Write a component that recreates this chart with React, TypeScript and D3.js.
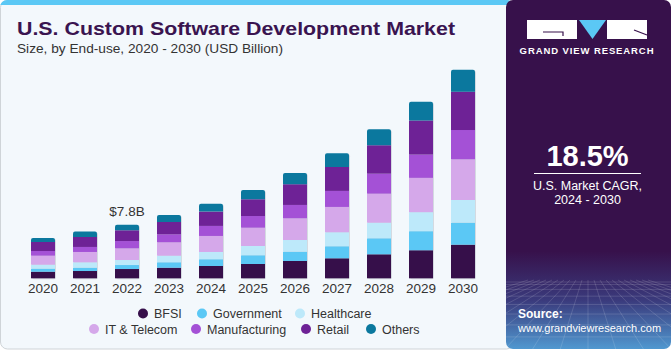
import React from "react";
import * as d3 from "d3";

const years = ["2020", "2021", "2022", "2023", "2024", "2025", "2026", "2027", "2028", "2029", "2030"];

// USD Billion
const bfsi = [0.96, 1.06, 1.35, 1.54, 1.79, 2.08, 2.52, 2.91, 3.49, 4.08, 4.89];
const government = [0.44, 0.48, 0.58, 0.79, 0.98, 1.27, 1.35, 1.75, 2.33, 2.77, 3.2];
const healthcare = [0.58, 0.79, 0.73, 0.96, 1.06, 1.35, 1.7, 2.04, 2.27, 2.77, 3.3];
const itTelecom = [1.31, 1.5, 1.7, 1.95, 2.33, 2.66, 3.16, 3.68, 4.22, 4.99, 5.92];
const manufacturing = [0.68, 0.73, 1.06, 1.16, 1.46, 1.7, 1.94, 2.33, 2.91, 3.39, 4.26];
const retail = [1.31, 1.46, 1.56, 1.79, 2.08, 2.43, 3.01, 3.49, 4.13, 4.95, 5.57];
const others = [0.58, 0.77, 0.82, 1.02, 1.16, 1.35, 1.64, 1.99, 2.33, 2.72, 3.2];

const seriesNames = ["BFSI", "Government", "Healthcare", "IT & Telecom", "Manufacturing", "Retail", "Others"];
const seriesValues = [bfsi, government, healthcare, itTelecom, manufacturing, retail, others];
const seriesColors = ["#360f4a", "#5bc8f5", "#bde9fa", "#d5a8ea", "#a451d6", "#6e2296", "#0b789e"];

const calloutYear = "2022";
const calloutLabel = "$7.8B";

const cagr = "18.5%";
const cagrLines = ["U.S. Market CAGR,", "2024 - 2030"];

const W = 671;
const H = 350;
const font = "'Liberation Sans', Arial, sans-serif";

// legend layout: two centred rows
const legendRows = [
  [0, 1, 2],
  [3, 4, 5, 6]
];
const legendX = [143, 202, 300, 94, 196, 306, 371];

const App = () => {
  const rows = years.map((y, i) => {
    const r: any = { year: y };
    seriesNames.forEach((s, k) => (r[s] = seriesValues[k][i]));
    return r;
  });
  const stacked = d3.stack().keys(seriesNames)(rows);

  const x = d3
    .scaleBand()
    .domain(years)
    .range([22, 484])
    .paddingInner(18 / 42)
    .paddingOuter(9 / 42);

  const y = d3.scaleLinear().domain([0, 30.4]).range([278.3, 69.3]);

  const totals = rows.map((r) => d3.sum(seriesNames, (s) => r[s]));
  const calloutIdx = years.indexOf(calloutYear);

  // perspective grid in the bottom of the right panel
  const gridH = d3.range(0, 9).map((i) => 282 + Math.pow(i / 8, 1.6) * 68);
  const gridV = d3.range(-10, 11).map((i) => i);

  return (
    <svg width={W} height={H} style={{ position: "absolute", left: 0, top: 0 }} fontFamily={font}>
      <defs>
        <linearGradient id="panel" x1="0" y1="0" x2="0" y2="1">
          <stop offset="0" stopColor="#37114b" />
          <stop offset="0.72" stopColor="#37114b" />
          <stop offset="0.86" stopColor="#3a3a7c" />
          <stop offset="1" stopColor="#5098d0" />
        </linearGradient>
        <clipPath id="panelClip">
          <rect x={506} y={0} width={165} height={349} rx={7} />
        </clipPath>
        <clipPath id="cardClip">
          <rect x={0} y={0} width={514} height={349.5} rx={7} />
        </clipPath>
      </defs>

      {/* left card */}
      <rect x={0.5} y={0.5} width={513} height={348.5} rx={7} fill="#f3f8fc" stroke="#cfd4d8" />
      <rect x={0} y={0} width={514} height={5} fill="#5bc8f5" clipPath="url(#cardClip)" />

      {/* right panel */}
      <g clipPath="url(#panelClip)">
        <rect x={506} y={0} width={165} height={349} fill="url(#panel)" />
        <g stroke="#ffffff" strokeOpacity={0.18} strokeWidth={0.8} fill="none">
          {gridH.map((gy, i) => (
            <line key={"h" + i} x1={506} x2={671} y1={gy} y2={gy} />
          ))}
          {gridV.map((i) => (
            <line key={"v" + i} x1={588 + i * 6} y1={280} x2={588 + i * 28} y2={350} />
          ))}
        </g>
      </g>

      {/* logo */}
      <g>
        <rect x={527} y={20} width={50} height={19} fill="#ffffff" />
        <path d="M543,32 H563 V36" stroke="#37114b" strokeWidth={1.2} fill="none" />
        <path d="M579,20 H606 L592.5,39 Z" fill="#5bc8f5" />
        <rect x={607} y={20} width={40} height={19} fill="#ffffff" />
        <path d="M634,30 L647,35" stroke="#37114b" strokeWidth={1.2} />
        <text x={587} y={54} textAnchor="middle" fill="#ffffff" fontSize={9.5} fontWeight="bold" letterSpacing={0.9}>
          GRAND VIEW RESEARCH
        </text>
      </g>

      {/* CAGR */}
      <text x={587.5} y={166} textAnchor="middle" fill="#ffffff" fontSize={29} fontWeight="bold">
        {cagr}
      </text>
      <line x1={534} x2={641} y1={173.5} y2={173.5} stroke="#ffffff" strokeWidth={1} />
      {cagrLines.map((t, i) => (
        <text key={t} x={587.5} y={190 + i * 13.5} textAnchor="middle" fill="#ffffff" fontSize={12.5}>
          {t}
        </text>
      ))}

      {/* source */}
      <text x={518} y={318} fill="#ffffff" fontSize={12} fontWeight="bold">
        Source:
      </text>
      <text x={518} y={331.5} fill="#ffffff" fontSize={11}>
        www.grandviewresearch.com
      </text>

      {/* title */}
      <text x={17} y={34.5} fill="#3a1450" fontSize={19} fontWeight="bold" textLength={438} lengthAdjust="spacingAndGlyphs">
        U.S. Custom Software Development Market
      </text>
      <text x={17} y={53} fill="#333333" fontSize={13.5} textLength={266} lengthAdjust="spacingAndGlyphs">
        Size, by End-use, 2020 - 2030 (USD Billion)
      </text>

      {/* bars */}
      <g>
        {years.map((yr, i) => (
          <rect
            key={"sh" + yr}
            x={(x(yr) as number) + 1}
            y={y(totals[i]) + 1}
            width={x.bandwidth()}
            height={y(0) - y(totals[i])}
            rx={2}
            fill="#9aa3b0"
            opacity={0.35}
          />
        ))}
        {stacked.map((layer, k) => (
          <g key={layer.key} fill={seriesColors[k]}>
            {layer.map((d, i) => {
              const bx = x(years[i]) as number;
              const top = y(d[1]);
              const h = y(d[0]) - y(d[1]);
              if (k === stacked.length - 1) {
                const r = 2;
                const bw = x.bandwidth();
                const p = `M${bx},${top + h} V${top + r} Q${bx},${top} ${bx + r},${top} H${bx + bw - r} Q${bx + bw},${top} ${bx + bw},${top + r} V${top + h} Z`;
                return <path key={years[i]} d={p} />;
              }
              return <rect key={years[i]} x={bx} y={top} width={x.bandwidth()} height={h} />;
            })}
          </g>
        ))}
      </g>

      {/* callout */}
      <text
        x={(x(calloutYear) as number) + x.bandwidth() / 2}
        y={y(totals[calloutIdx]) - 9}
        textAnchor="middle"
        fill="#333333"
        fontSize={13.5}
      >
        {calloutLabel}
      </text>

      {/* year axis */}
      <g>
        {years.map((yr) => (
          <text
            key={yr}
            x={(x(yr) as number) + x.bandwidth() / 2}
            y={292.5}
            textAnchor="middle"
            fill="#333333"
            fontSize={13.5}
          >
            {yr}
          </text>
        ))}
      </g>

      {/* legend */}
      <g>
        {legendRows.map((row, ri) =>
          row.map((k) => (
            <g key={seriesNames[k]}>
              <circle cx={legendX[k]} cy={313.5 + ri * 15.5} r={5} fill={seriesColors[k]} />
              <text x={legendX[k] + 11} y={318 + ri * 15.5} fill="#333333" fontSize={12.5}>
                {seriesNames[k]}
              </text>
            </g>
          ))
        )}
      </g>
    </svg>
  );
};

export default App;
